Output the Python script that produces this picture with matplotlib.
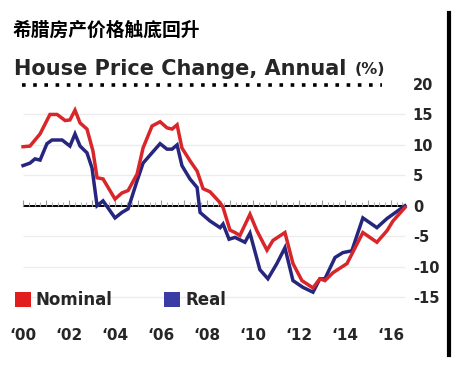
import matplotlib
matplotlib.use("Agg")
import matplotlib.pyplot as plt
from matplotlib.lines import Line2D
from matplotlib.patches import Patch
import numpy as np

W, H = 465, 373

# Greece house prices, annual change (%)
nominal_years = [2000.00, 2000.30, 2000.74, 2001.17, 2001.48, 2001.83, 2002.04, 2002.26,
                 2002.48, 2002.78, 2003.04, 2003.22, 2003.48, 2004.00, 2004.30, 2004.57,
                 2004.96, 2005.22, 2005.61, 2005.96, 2006.26, 2006.48, 2006.70, 2006.91,
                 2007.26, 2007.57, 2007.83, 2008.13, 2008.57, 2008.70, 2009.00, 2009.22,
                 2009.43, 2009.87, 2010.17, 2010.61, 2010.87, 2011.39, 2011.74, 2012.13,
                 2012.61, 2012.91, 2013.13, 2013.48, 2014.09, 2014.78, 2015.39, 2015.83,
                 2016.09, 2016.61]
nominal = [9.7, 9.8, 11.8, 15.0, 15.0, 14.0, 14.1, 15.7,
           13.6, 12.6, 9.0, 4.6, 4.4, 1.1, 2.1, 2.5,
           5.2, 9.5, 13.1, 13.8, 12.8, 12.6, 13.3, 9.5,
           7.4, 5.7, 2.8, 2.3, 0.5, -0.3, -4.0, -4.4,
           -4.9, -1.4, -4.1, -7.3, -5.7, -4.4, -9.5, -12.3,
           -13.5, -12.0, -12.3, -11.0, -9.5, -4.4, -6.0, -4.1,
           -2.5, -0.3]

real_years = [2000.00, 2000.30, 2000.52, 2000.74, 2001.04, 2001.26, 2001.70, 2002.04,
              2002.26, 2002.48, 2002.78, 2003.00, 2003.22, 2003.48, 2004.00, 2004.30,
              2004.57, 2004.96, 2005.22, 2005.61, 2005.96, 2006.26, 2006.48, 2006.70,
              2006.91, 2007.26, 2007.57, 2007.70, 2008.13, 2008.57, 2008.70, 2008.96,
              2009.22, 2009.65, 2009.87, 2010.30, 2010.65, 2011.04, 2011.39, 2011.74,
              2012.17, 2012.61, 2012.91, 2013.13, 2013.57, 2013.91, 2014.30, 2014.78,
              2015.39, 2015.83, 2016.61]
real = [6.6, 7.0, 7.7, 7.5, 10.2, 10.8, 10.8, 9.8,
        11.8, 9.8, 8.7, 6.2, 0.0, 0.8, -2.0, -1.1,
        -0.5, 4.1, 7.0, 8.7, 10.2, 9.3, 9.3, 10.0,
        6.6, 4.4, 3.0, -1.1, -2.5, -3.6, -3.0, -5.5,
        -5.2, -6.0, -4.5, -10.5, -12.0, -9.5, -6.9, -12.3,
        -13.4, -14.2, -12.0, -12.0, -8.5, -7.7, -7.4, -2.0,
        -3.6, -2.1, 0.0]

yticks = [20, 15, 10, 5, 0, -5, -10, -15]
xticks = [2000, 2002, 2004, 2006, 2008, 2010, 2012, 2014, 2016]
xlabels = ["\u2018%02d" % (y % 100) for y in xticks]

red = "#d8262a"
blue = "#26267e"
txt = "#262626"


def fx(x):
    return x / W


def fy(y):
    return 1 - y / H


fig = plt.figure(figsize=(W / 100, H / 100), dpi=100)
fig.patch.set_facecolor("white")

# plot area: px 15..410 horizontally, 80..322 vertically
ax = fig.add_axes([fx(15), fy(322), (410 - 15) / W, (322 - 80) / H])
ax.set_xlim(1999.65, 2016.83)
ax.set_ylim(-19.1, 20.66)
for s in ax.spines.values():
    s.set_visible(False)

x0, x1 = nominal_years[0], nominal_years[-1]
ax.hlines([v for v in yticks if v not in (0, 20)], x0, x1, color="#ececec", lw=1, zorder=1)

# zero line with small quarter ticks
ax.hlines(0, x0, x1, color="black", lw=1.4, zorder=2)
q = np.arange(2000, 2016.6, 0.25)
ax.vlines(q, 0, 0.55, color="#b0b0b0", lw=0.8, zorder=2)
ax.vlines(np.arange(2000, 2017), 0, 0.9, color="#999999", lw=0.8, zorder=2)

ax.plot(real_years, real, color=blue, lw=2.5, zorder=3, solid_joinstyle="miter")
ax.plot(nominal_years, nominal, color=red, lw=2.5, zorder=4, solid_joinstyle="miter")

ax.yaxis.tick_right()
ax.set_yticks(yticks)
ax.set_yticklabels([str(v) for v in yticks])
ax.set_xticks(xticks)
ax.set_xticklabels(xlabels)
ax.tick_params(axis="y", length=0, pad=2, labelsize=10.5, labelcolor=txt)
ax.tick_params(axis="x", length=0, pad=4, labelsize=11, labelcolor=txt)
for lab in ax.get_xticklabels() + ax.get_yticklabels():
    lab.set_fontweight("bold")

handles = [Patch(facecolor="#e11d1d", edgecolor="none", label="Nominal"),
           Patch(facecolor="#3b3ba6", edgecolor="none", label="Real")]
leg = fig.legend(handles=handles, loc="center left", bbox_to_anchor=(fx(15), fy(300)),
                 ncol=2, frameon=False, handlelength=0.95, handleheight=1.0,
                 handletextpad=0.3, columnspacing=3.1, labelcolor=txt, borderpad=0,
                 borderaxespad=0, prop={"size": 12, "weight": "bold"})

# titles
fig.text(fx(13), fy(30), "希腊房产价格触底回升", fontsize=13.5, weight="bold",
         family=["Noto Sans CJK SC", "DejaVu Sans"], color="black", va="center")
fig.text(fx(14), fy(69), "House Price Change, Annual", fontsize=15, weight="bold",
         color=txt, va="center")
fig.text(fx(355), fy(69), "(%)", fontsize=11.5, weight="bold", color=txt, va="center")

# dotted rule under the title
fig.add_artist(Line2D([fx(22), fx(382)], [fy(85), fy(85)], color="black", lw=2.6,
                      dashes=(1, 2.1), transform=fig.transFigure))
# vertical bar at the right edge
fig.add_artist(Line2D([fx(449), fx(449)], [fy(13), fy(355)], color="black", lw=3,
                      transform=fig.transFigure))

fig.savefig("out.png", dpi=100, facecolor="white")
